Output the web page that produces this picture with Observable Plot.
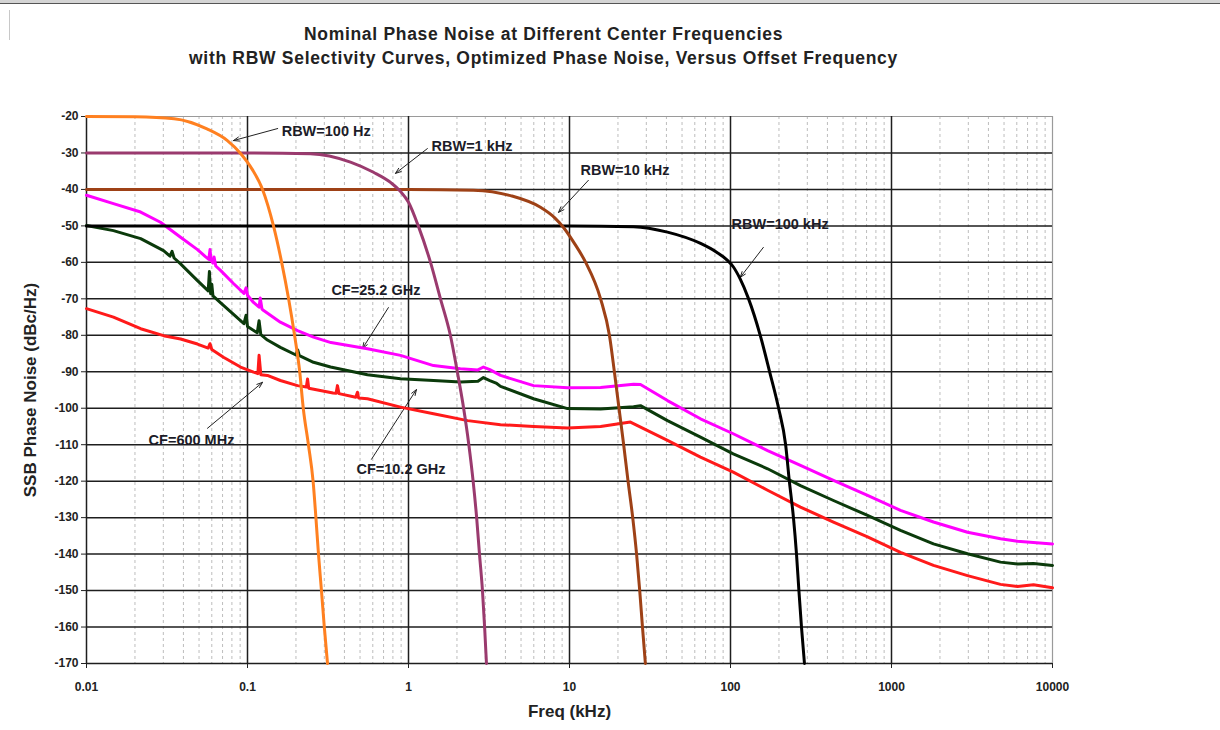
<!DOCTYPE html>
<html>
<head>
<meta charset="utf-8">
<script src="https://cdn.jsdelivr.net/npm/d3@7"></script>
<script src="https://cdn.jsdelivr.net/npm/@observablehq/plot@0.6"></script>
<style>
  html, body { margin: 0; padding: 0; background: #fff; }
  body { width: 1220px; height: 730px; position: relative; overflow: hidden; font-family: "Liberation Sans", Arial, sans-serif; }
  #topbar { position: absolute; left: 0; top: 0; width: 1220px; height: 3px; background: #d4d4d4; border-bottom: 1px solid #555; }
  #mark { position: absolute; left: 9px; top: 10px; width: 1px; height: 30px; background: #c8c8c8; }
  #title { position: absolute; left: 0; top: 22px; width: 1087px; text-align: center; font-weight: bold; font-size: 17.5px; line-height: 24px; color: #222; letter-spacing: 0.7px; }
  #chart { position: absolute; left: 0; top: 80px; }
</style>
</head>
<body>
<div id="topbar"></div>
<div id="mark"></div>
<div id="title">Nominal Phase Noise at Different Center Frequencies<br>with RBW Selectivity Curves, Optimized Phase Noise, Versus Offset Frequency</div>
<div id="chart"></div>
<script>
// ---- Axis values ----
const xDecades = [0.01, 0.1, 1, 10, 100, 1000, 10000];
const minorMultiples = [2, 3, 4, 5, 6, 7, 8, 9];
const yTicks = [-20, -30, -40, -50, -60, -70, -80, -90, -100, -110, -120, -130, -140, -150, -160, -170];

// ---- RBW selectivity curves: [offset freq (kHz), dBc/Hz] ----
const rbw100Hz = [[0.01,-20],[0.02,-20.1],[0.035,-20.6],[0.056,-23.4],[0.075,-26.6],[0.09,-30],[0.107,-34.5],[0.124,-40],[0.145,-50],[0.163,-60],[0.18,-70],[0.196,-80],[0.211,-90],[0.222,-100],[0.239,-110],[0.2555,-120],[0.266,-130],[0.276,-140],[0.288,-150],[0.30,-160],[0.314,-170]];
const rbw1kHz = [[0.01,-30],[0.1,-30],[0.246,-30.2],[0.436,-32.5],[0.606,-35.3],[0.78,-38.2],[0.89,-40.5],[1.0,-43.5],[1.15,-50],[1.37,-60],[1.58,-70],[1.82,-80],[2.01,-90],[2.2,-100],[2.37,-110],[2.52,-120],[2.65,-130],[2.76,-140],[2.88,-150],[2.97,-160],[3.05,-170]];
const rbw10kHz = [[0.01,-40],[1,-40],[2.53,-40.2],[4.3,-41.7],[6.6,-44.9],[8.1,-47.8],[9.2,-50.5],[10.8,-55],[12.6,-60],[15.6,-70],[17.7,-80],[19.0,-90],[20.3,-100],[21.7,-110],[23.1,-120],[24.7,-130],[26.1,-140],[27.3,-150],[28.4,-160],[29.6,-170]];
const rbw100kHz = [[0.01,-50],[10,-50],[25,-50.2],[40.6,-51.7],[65.2,-54.8],[82,-57.2],[95,-59.3],[104,-61.2],[115,-64.6],[129,-69.8],[153,-80],[175,-90],[199,-100],[220,-110],[232,-120],[246,-130],[257,-140],[266,-150],[276,-160],[288,-170]];

// ---- Phase noise curves: [offset freq (kHz), dBc/Hz] ----
const cf25_2GHz = [[0.01,-41.6],[0.0147,-43.9],[0.0217,-46.2],[0.0288,-49],[0.0384,-53.1],[0.0489,-56.5],[0.055,-58.5],[0.0575,-59.2],[0.0585,-56.5],[0.0595,-59.6],[0.061,-60.2],[0.062,-58.5],[0.0635,-61],[0.068,-62.2],[0.0818,-65.8],[0.095,-68.5],[0.098,-67],[0.1,-69],[0.109,-71],[0.118,-72.3],[0.12,-69.8],[0.123,-72.8],[0.126,-73.2],[0.16,-76.4],[0.2045,-78.7],[0.257,-80.5],[0.33,-82],[0.556,-83.7],[0.892,-85.5],[1.43,-88.3],[2.1,-89.2],[2.7,-89.5],[2.92,-88.7],[3.2,-89.4],[3.73,-91],[5.98,-93.8],[9.72,-94.4],[15.6,-94.3],[25,-93.4],[27.6,-93.5],[40.6,-97.9],[65.1,-102.9],[104,-107],[170,-111.6],[272,-115.7],[436,-119.8],[710,-123.9],[1137,-128],[1823,-131.2],[2965,-134],[4754,-135.8],[6060,-136.5],[10000,-137.2]];
const cf10_2GHz = [[0.01,-49.9],[0.0147,-51.3],[0.0217,-53.5],[0.0301,-56.8],[0.033,-58.3],[0.034,-57],[0.035,-58.8],[0.0384,-60.4],[0.0489,-65],[0.057,-67.8],[0.058,-62.5],[0.059,-68.6],[0.06,-66],[0.061,-69.2],[0.0709,-71.8],[0.095,-76.8],[0.098,-74.5],[0.1,-77.6],[0.115,-79.3],[0.118,-76],[0.121,-79.8],[0.133,-81.3],[0.16,-83.3],[0.2,-85.4],[0.205,-84],[0.21,-85.6],[0.257,-87.4],[0.328,-88.7],[0.556,-90.8],[0.892,-91.9],[1.43,-92.4],[2.1,-92.8],[2.7,-92.6],[2.92,-91.6],[3.2,-92.4],[3.5,-93.1],[3.73,-94],[5.98,-97.4],[9.72,-100.1],[15.6,-100.2],[25,-99.6],[27.6,-99.3],[40.6,-103.4],[65.1,-107.9],[104,-112.5],[170,-116.6],[272,-121.2],[436,-125.3],[710,-129.4],[1137,-133.5],[1823,-137.2],[2965,-139.9],[4754,-142.2],[6060,-142.7],[7620,-142.6],[10000,-143.1]];
const cf600MHz = [[0.01,-72.7],[0.0147,-75],[0.0217,-78.2],[0.0301,-80.1],[0.0384,-81],[0.0489,-82.4],[0.057,-83.5],[0.0585,-82.3],[0.06,-83.9],[0.0709,-86],[0.0905,-88.7],[0.109,-90.1],[0.116,-90.5],[0.118,-85.5],[0.121,-90.8],[0.133,-91],[0.16,-92.4],[0.2045,-93.8],[0.232,-94.2],[0.236,-92],[0.24,-94.5],[0.34,-95.8],[0.355,-95.9],[0.362,-93.8],[0.37,-96],[0.47,-97],[0.482,-95.6],[0.49,-97.2],[0.556,-97.4],[0.892,-99.7],[1.43,-101.5],[2.33,-103.4],[3.73,-104.5],[5.98,-105],[9.72,-105.4],[15.6,-105],[23.9,-103.8],[40.6,-108.8],[65.1,-113.4],[104,-117.5],[170,-122.5],[272,-127.1],[436,-131.2],[710,-135.3],[1137,-139.5],[1823,-143.1],[2965,-145.9],[4754,-148.3],[6060,-148.9],[7620,-148.4],[10000,-149.2]];

// ---- Annotations: label text position and arrow (tail -> head) in data coords ----
const labels = [
  {text: "RBW=100 Hz",  x: 0.163, y: -24.1, x1: 0.154, y1: -23.3, x2: 0.0818, y2: -26.6},
  {text: "RBW=1 kHz",   x: 1.39,  y: -28.2, x1: 1.31,  y1: -28.8, x2: 0.83,   y2: -35.6},
  {text: "RBW=10 kHz",  x: 11.7,  y: -34.8, x1: 13.1,  y1: -37.5, x2: 8.55,   y2: -46.3},
  {text: "RBW=100 kHz", x: 101.5, y: -49.6, x1: 160,   y1: -55.9, x2: 115,    y2: -64.1},
  {text: "CF=25.2 GHz", x: 0.332, y: -67.7, x1: 0.75,  y1: -72.4, x2: 0.518,  y2: -83.6},
  {text: "CF=600 MHz",  x: 0.0243,y: -108.8,x1: 0.0564,y1: -105.5,x2: 0.124,  y2: -92.9},
  {text: "CF=10.2 GHz", x: 0.475, y: -116.8,x1: 0.589, y1: -114.0,x2: 1.12,   y2: -94.9}
];

const rows = arr => arr.map(([f, v]) => ({f, v}));
const minorGrid = xDecades.slice(0, -1).flatMap(d => minorMultiples.map(m => d * m));

const chart = Plot.plot({
  width: 1220,
  height: 650,
  marginTop: 36,
  marginBottom: 67,
  marginLeft: 86,
  marginRight: 168,
  style: {fontFamily: "'Liberation Sans', Arial, sans-serif", fontWeight: "bold", fontSize: "12px", color: "#222", background: "transparent"},
  x: {type: "log", domain: [0.01, 10000], ticks: xDecades, tickFormat: d => String(d), tickSize: 5, tickPadding: 14, label: null},
  y: {domain: [-170, -20], ticks: yTicks, tickFormat: d => String(d), tickSize: 5, tickPadding: 3, label: null},
  marks: [
    Plot.ruleX(minorGrid, {stroke: "#bdbdbd", strokeDasharray: "3,3", strokeWidth: 1}),
    Plot.ruleY([-20], {stroke: "#9a9a9a", strokeWidth: 1.2}),
    Plot.ruleX([10000], {stroke: "#9a9a9a", strokeWidth: 1.2}),
    Plot.ruleY(yTicks.slice(1), {stroke: "#1e1e1e", strokeWidth: 1.5}),
    Plot.ruleX(xDecades.slice(0, -1), {stroke: "#1e1e1e", strokeWidth: 1.5}),
    Plot.text(labels, {x: "x", y: "y", text: "text", textAnchor: "start", fontSize: 14.5, fontWeight: "bold", fill: "#1c1c28"}),
    Plot.arrow(labels, {x1: "x1", y1: "y1", x2: "x2", y2: "y2", stroke: "#222", strokeWidth: 1, headLength: 9, headAngle: 40}),
    Plot.line(rows(cf25_2GHz), {x: "f", y: "v", stroke: "#ff00ff", strokeWidth: 3}),
    Plot.line(rows(cf10_2GHz), {x: "f", y: "v", stroke: "#0b3a0b", strokeWidth: 3}),
    Plot.line(rows(cf600MHz), {x: "f", y: "v", stroke: "#ff1a1a", strokeWidth: 3}),
    Plot.line(rows(rbw100kHz), {x: "f", y: "v", stroke: "#000000", strokeWidth: 3, curve: "monotone-x"}),
    Plot.line(rows(rbw10kHz), {x: "f", y: "v", stroke: "#9e4116", strokeWidth: 3, curve: "monotone-x"}),
    Plot.line(rows(rbw1kHz), {x: "f", y: "v", stroke: "#9a3a6e", strokeWidth: 3, curve: "monotone-x"}),
    Plot.line(rows(rbw100Hz), {x: "f", y: "v", stroke: "#ff8020", strokeWidth: 3, curve: "monotone-x"}),
    Plot.text(["Freq (kHz)"], {frameAnchor: "bottom", dy: 53, fontSize: 17, fontWeight: "bold", fill: "#222"}),
    Plot.text(["SSB Phase Noise (dBc/Hz)"], {frameAnchor: "left", textAnchor: "middle", dx: -56, rotate: -90, fontSize: 17, fontWeight: "bold", fill: "#222"})
  ]
});
// Tick labels of both axes
d3.select(chart).selectAll("g[aria-label*='axis'] text")
  .style("font-size", "12px").style("font-weight", "bold").style("fill", "#222");
document.getElementById("chart").appendChild(chart);
</script>
</body>
</html>
